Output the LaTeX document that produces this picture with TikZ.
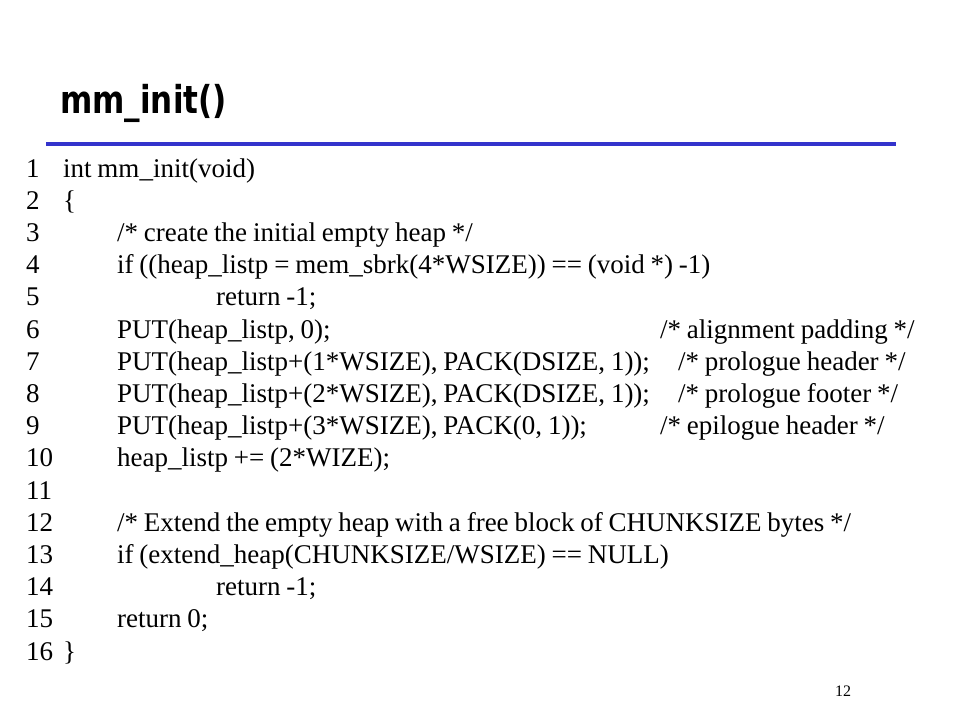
\documentclass[tikz,border=0pt]{standalone}
\usepackage{fontspec}
\setmainfont[WordSpace=0.86]{Liberation Serif}
\newfontfamily\titlefont{DejaVu Sans}
\definecolor{rulebar}{RGB}{51,51,204}
\begin{document}
\begin{tikzpicture}[x=1pt,y=-1pt,
    lineno/.style={anchor=base west,inner sep=0pt,font=\fontsize{27}{30}\selectfont},
    codeline/.style={anchor=base west,inner sep=0pt,font=\fontsize{27}{30}\selectfont},
    remark/.style={codeline}]
  \useasboundingbox[fill=white] (0,0) rectangle (960,720);
  % title and bar
  \node [anchor=base west,inner sep=0pt,font=\titlefont\bfseries\fontsize{31}{36}\selectfont] (title) at (60,113) {\scalebox{1}[1.24]{mm\_init()}};
  \coordinate (barl) at (46,144);
  \coordinate (barr) at (896,144);
  \draw [rulebar,line width=4pt] (barl) -- (barr);
  % line numbers
  \foreach \n in {1,...,16}
    \node [lineno] (n\n) at (26,{177+(\n-1)*32.2}) {\n};
  % code
  \node [codeline] (c1) at (63,177) {int mm\_init(void)};
  \node [codeline] (c2) at (63,209.2) {\{};
  \node [codeline] (c3) at (117,241.4) {/* create the initial empty heap */};
  \node [codeline] (c4) at (117,273.6) {if ((heap\_listp = mem\_sbrk(4*WSIZE)) == (void *) -1)};
  \node [codeline] (c5) at (216,305.8) {return -1;};
  \node [codeline] (c6) at (117,338) {PUT(heap\_listp, 0);};
  \node [remark] (r6) at (660,338) {/* alignment padding */};
  \node [codeline] (c7) at (117,370.2) {PUT(heap\_listp+(1*WSIZE), PACK(DSIZE, 1));};
  \node [remark] (r7) at (678,370.2) {/* prologue header */};
  \node [codeline] (c8) at (117,402.4) {PUT(heap\_listp+(2*WSIZE), PACK(DSIZE, 1));};
  \node [remark] (r8) at (678,402.4) {/* prologue footer */};
  \node [codeline] (c9) at (117,434.6) {PUT(heap\_listp+(3*WSIZE), PACK(0, 1));};
  \node [remark] (r9) at (660,434.6) {/* epilogue header */};
  \node [codeline] (c10) at (117,466.8) {heap\_listp += (2*WIZE);};
  \node [codeline] (c12) at (117,531.2) {/* Extend the empty heap with a free block of CHUNKSIZE bytes */};
  \node [codeline] (c13) at (117,563.4) {if (extend\_heap(CHUNKSIZE/WSIZE) == NULL)};
  \node [codeline] (c14) at (216,595.6) {return -1;};
  \node [codeline] (c15) at (117,627.8) {return 0;};
  \node [codeline] (c16) at (63,660) {\}};
  % page number
  \node [anchor=base west,inner sep=0pt,font=\fontsize{16}{18}\selectfont] (page) at (835,696) {12};
\end{tikzpicture}
\end{document}
